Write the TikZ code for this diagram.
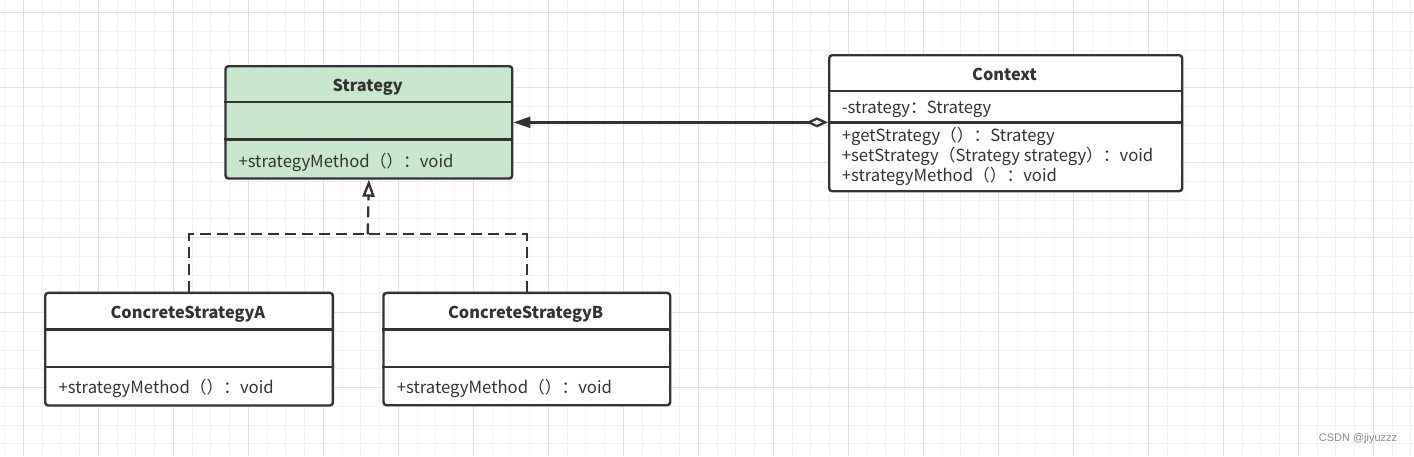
\documentclass[tikz,border=0pt]{standalone}
\usepackage{fontspec}
\setmainfont{Noto Sans CJK SC}
\newfontfamily\markfont{Liberation Sans}
\usetikzlibrary{arrows.meta}

\definecolor{gridminor}{RGB}{242,242,242}
\definecolor{gridmajor}{RGB}{226,226,226}
\definecolor{umlline}{RGB}{51,51,51}
\definecolor{umlgreen}{RGB}{201,231,204}

\tikzset{
  classbox/.style={draw=umlline, line width=2.4pt, rounded corners=3pt, fill=white, anchor=north west, inner sep=0pt},
  classname/.style={font=\fontsize{16.3}{19}\selectfont\bfseries, text=umlline, inner sep=0pt},
  member/.style={font=\fontsize{16.7}{20}\selectfont, text=umlline, anchor=west, inner sep=0pt, align=left},
  divider/.style={draw=umlline, line width=2.4pt},
}

\begin{document}
\begin{tikzpicture}[x=1pt, y=-1pt]
        \useasboundingbox (0,0) rectangle (1414,456);
        \fill[white] (0,0) rectangle (1414,456);
        % grid
        \foreach \k in {0,...,75}
                \draw[gridminor, line width=1pt] (4.55+18.75*\k,0) -- (4.55+18.75*\k,456);
        \foreach \k in {0,...,23}
                \draw[gridminor, line width=1pt] (0,12.7+18.75*\k) -- (1414,12.7+18.75*\k);
        \foreach \k in {0,...,18}
                \draw[gridmajor, line width=1pt] (23.3+75*\k,0) -- (23.3+75*\k,456);
        \foreach \k in {0,...,5}
                \draw[gridmajor, line width=1pt] (0,12.7+75*\k) -- (1414,12.7+75*\k);

        % classes
        \node[classbox, fill=umlgreen, minimum width=286.7pt, minimum height=112.3pt] (strategy) at (224.3,65) {};
        \draw[divider] (224.3,101.7) -- (511,101.7);
        \draw[divider] (224.3,139.3) -- (511,139.3);
        \node[classname] (strategyname) at (367.7,87) {Strategy};
        \node[member] (strategyops) at (238.3,162) {+strategyMethod（）：void};

        \node[classbox, minimum width=353pt, minimum height=136pt] (context) at (828,54) {};
        \draw[divider] (828,91) -- (1181,91);
        \draw[divider] (828,122.3) -- (1181,122.3);
        \node[classname] (contextname) at (1004.5,74.3) {Context};
        \node[member] (contextattr) at (841.7,109) {-strategy：Strategy};
        \node[member, anchor=north west] (contextops) at (841.7,127.3) {+getStrategy（）：Strategy\\+setStrategy（Strategy strategy）：void\\+strategyMethod（）：void};

        \node[classbox, minimum width=287.7pt, minimum height=112.6pt] (csa) at (44,291.7) {};
        \draw[divider] (44,329.3) -- (331.7,329.3);
        \draw[divider] (44,366.7) -- (331.7,366.7);
        \node[classname] (csaname) at (187.9,314) {ConcreteStrategyA};
        \node[member] (csaops) at (58.5,388.5) {+strategyMethod（）：void};

        \node[classbox, minimum width=286.7pt, minimum height=112.3pt] (csb) at (382.3,291.7) {};
        \draw[divider] (382.3,329.3) -- (669,329.3);
        \draw[divider] (382.3,366.7) -- (669,366.7);
        \node[classname] (csbname) at (525.7,314) {ConcreteStrategyB};
        \node[member] (csbops) at (396.7,388.5) {+strategyMethod（）：void};

        % relations
        \coordinate (join) at (367.7,234.3);
        \begin{scope}[every path/.style={draw=umlline, line width=2.3pt}]
                \draw[dash pattern=on 11pt off 6pt] (csa.north) |- (join);
                \draw[dash pattern=on 11pt off 6pt] (csb.north) |- (join);
                \draw[dash pattern=on 11pt off 6pt, -{Triangle[open, fill=white, length=17pt, width=12pt]}] (join) -- (strategy.south);
                \draw[{Triangle[length=17pt, width=11pt]}-{Diamond[open, fill=white, length=22pt, width=10pt]}] (strategy.east) -- (strategy.east -| context.west);
        \end{scope}

        \node[font=\markfont\fontsize{11}{13}\selectfont, text=black!45] (mark) at (1358,439) {CSDN @jiyuzzz};
\end{tikzpicture}
\end{document}
